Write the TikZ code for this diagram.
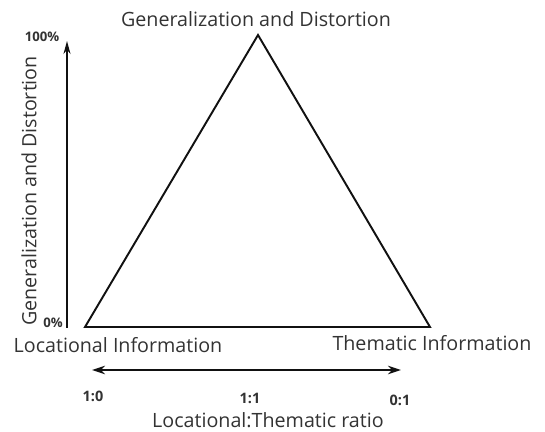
\documentclass[tikz,border=0pt]{standalone}
\usepackage{fontspec}
\setmainfont{Open Sans}
\usetikzlibrary{arrows.meta,positioning}
\definecolor{ink}{HTML}{111111}
\definecolor{inkgray}{HTML}{333333}
\tikzset{
  triline/.style={draw=ink,line width=1.1pt,line join=miter},
  axisarr/.style={draw=ink,line width=0.8pt},
  mainlabel/.style={text=inkgray,inner sep=0pt,
                    font=\fontsize{11.2}{13}\selectfont},
  pctlabel/.style={text=inkgray,inner sep=0pt,
                   font=\fontsize{7.5}{8}\selectfont\bfseries},
  ratiolabel/.style={text=inkgray,inner sep=0pt,
                     font=\fontsize{8.2}{9}\selectfont\bfseries}
}
\begin{document}
\begin{tikzpicture}[x=0.02cm,y=-0.02cm]
  \useasboundingbox (0,0) rectangle (545,432);
  % triangle corners
  \coordinate (apex) at (258,35);
  \coordinate (locpt) at (85,327);
  \coordinate (thmpt) at (430,327);
  \draw[triline] (locpt) -- (apex) -- (thmpt) -- cycle;
  \node[mainlabel] (toplbl) at (256,19) {Generalization and Distortion};
  \node[mainlabel] (loclbl) at (118,345) {Locational Information};
  \node[mainlabel] (thmlbl) at (432,343) {Thematic Information};
  % vertical axis
  \coordinate (vbot) at (67,328);
  \coordinate (vtop) at (67,41);
  \draw[axisarr,-{Stealth[length=2.6mm,width=1.4mm]}] (vbot) -- (vtop);
  \node[pctlabel] (hipct) at (42,37) {100\%};
  \node[pctlabel] (lopct) at (53,323) {0\%};
  \node[mainlabel,rotate=90] (ylbl) at (29,191) {Generalization and Distortion};
  % horizontal ratio axis
  \coordinate (hleft) at (92,370);
  \coordinate (hright) at (401,370);
  \draw[axisarr,{Stealth[length=2.6mm,width=1.7mm]}-{Stealth[length=2.6mm,width=1.7mm]}] (hleft) -- (hright);
  \node[ratiolabel] (r10) at (93,396) {1:0};
  \node[ratiolabel] (r11) at (250,398) {1:1};
  \node[ratiolabel] (r01) at (400,400) {0:1};
  \node[mainlabel] (ratiolbl) at (268,420) {Locational:Thematic ratio};
\end{tikzpicture}
\end{document}
